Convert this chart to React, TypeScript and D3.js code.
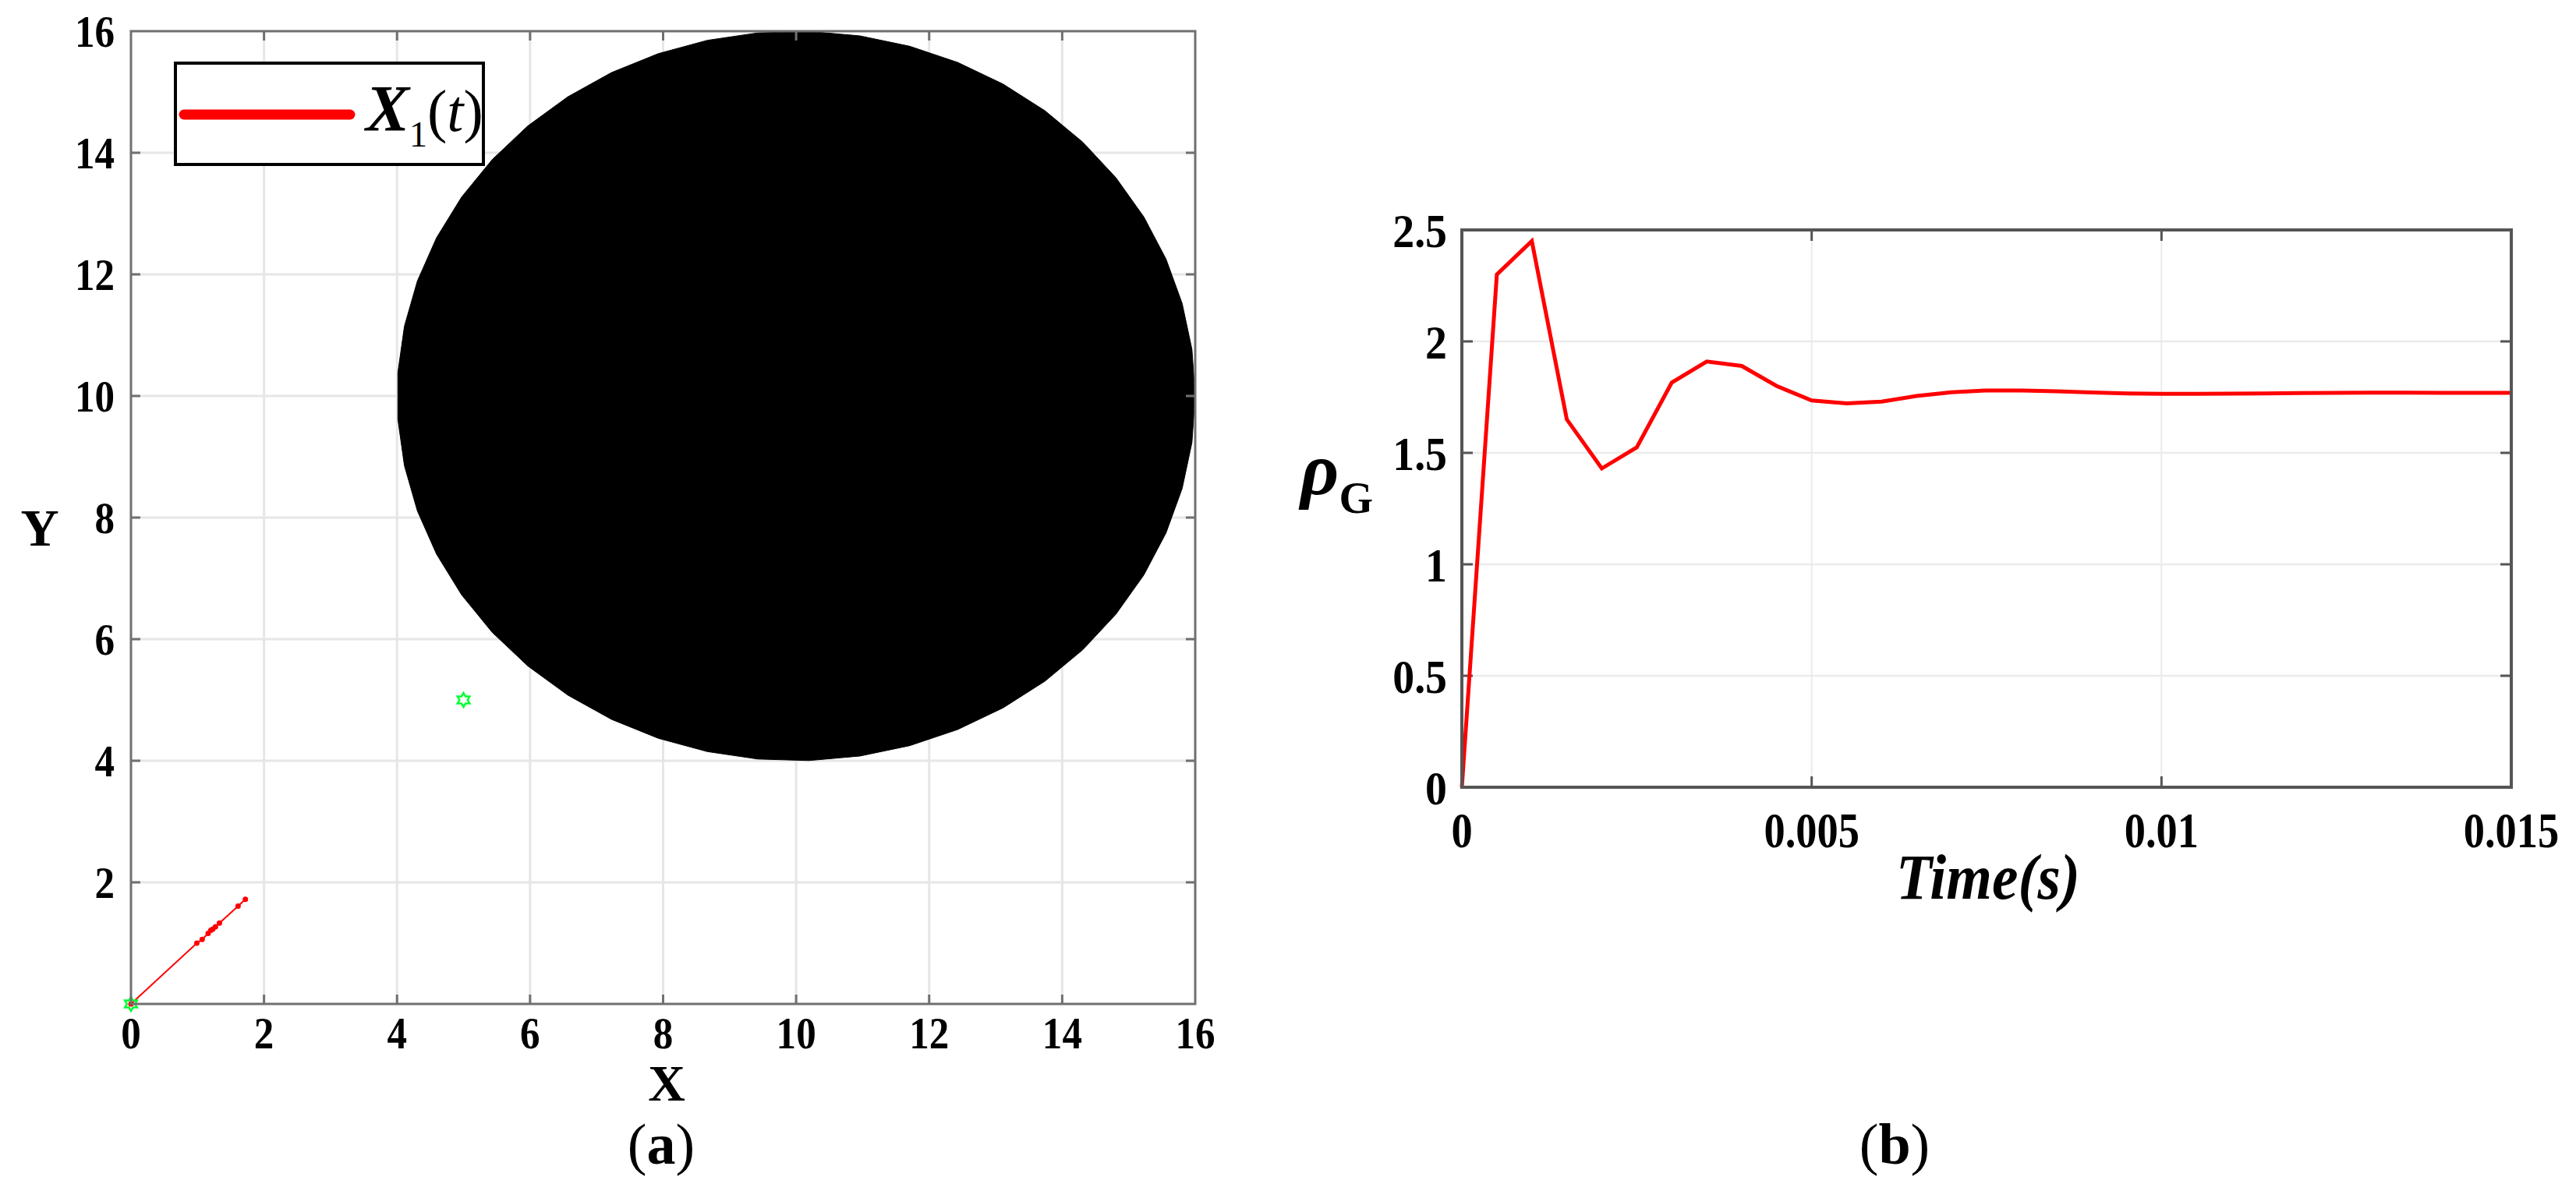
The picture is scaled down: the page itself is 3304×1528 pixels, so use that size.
import React from "react";
import * as d3 from "d3";

// ---------- Data: panel (a) ----------
const trajX = [0, 0.99, 1.07, 1.16, 1.2, 1.23, 1.27, 1.33, 1.61, 1.72];
const trajY = [0, 1.0, 1.06, 1.16, 1.21, 1.23, 1.27, 1.33, 1.61, 1.72];
const startPoint = [0, 0];
const goalPoint = [5, 5];
const obstacleCenter = [10, 10];
const obstacleRadius = 6;
const obstacleVertices = 50;
const xTicksA = [0, 2, 4, 6, 8, 10, 12, 14, 16];
const yTicksA = [2, 4, 6, 8, 10, 12, 14, 16];

// ---------- Data: panel (b) ----------
const timeValues = [
  0, 0.0005, 0.001, 0.0015, 0.002, 0.0025, 0.003, 0.0035, 0.004, 0.0045, 0.005,
  0.0055, 0.006, 0.0065, 0.007, 0.0075, 0.008, 0.0085, 0.009, 0.0095, 0.01,
  0.0105, 0.011, 0.0115, 0.012, 0.0125, 0.013, 0.0135, 0.014, 0.0145, 0.015,
];
const rhoValues = [
  0, 2.3, 2.45, 1.65, 1.43, 1.525, 1.815, 1.91, 1.89, 1.8, 1.735,
  1.722, 1.73, 1.755, 1.772, 1.78, 1.78, 1.776, 1.771, 1.767, 1.765,
  1.765, 1.766, 1.767, 1.768, 1.769, 1.77, 1.77, 1.769, 1.769, 1.769,
];
const timeTicks = [0, 0.005, 0.01, 0.015];
const timeTickLabels = ["0", "0.005", "0.01", "0.015"];
const rhoTicks = [0, 0.5, 1, 1.5, 2, 2.5];
const rhoTickLabels = ["0", "0.5", "1", "1.5", "2", "2.5"];

const FONT = "'Liberation Serif', 'Times New Roman', serif";

function hexagram(cx: number, cy: number, R: number) {
  const r = R / Math.sqrt(3);
  const pts: [number, number][] = d3.range(12).map((k) => {
    const a = (-90 + 30 * k) * (Math.PI / 180);
    const rad = k % 2 === 0 ? R : r;
    return [cx + rad * Math.cos(a), cy + rad * Math.sin(a)];
  });
  return d3.line().curve(d3.curveLinearClosed)(pts) as string;
}

// condensed text helper (reference glyphs are slightly narrow)
function CText(props: {
  x: number;
  y: number;
  anchor?: "start" | "middle" | "end";
  size: number;
  sx?: number;
  weight?: string;
  italic?: boolean;
  children: React.ReactNode;
}) {
  const { x, y, anchor = "start", size, sx = 0.88, weight = "bold", italic = false, children } = props;
  return (
    <text
      transform={`translate(${x},${y}) scale(${sx},1)`}
      textAnchor={anchor}
      fontFamily={FONT}
      fontWeight={weight}
      fontStyle={italic ? "italic" : "normal"}
      fontSize={size}
      fill="#000"
    >
      {children}
    </text>
  );
}

export default function App() {
  // Panel (a) scales
  const xA = d3.scaleLinear().domain([0, 16]).range([168, 1533]);
  const yA = d3.scaleLinear().domain([0, 16]).range([1288, 40]);
  // Panel (b) scales
  const xB = d3.scaleLinear().domain([0, 0.015]).range([1875, 3221]);
  const yB = d3.scaleLinear().domain([0, 2.5]).range([1010, 295]);

  const circlePts: [number, number][] = d3.range(obstacleVertices).map((i) => {
    const a = (i / (obstacleVertices - 1)) * 2 * Math.PI;
    return [
      xA(obstacleCenter[0] + obstacleRadius * Math.cos(a)),
      yA(obstacleCenter[1] + obstacleRadius * Math.sin(a)),
    ];
  });
  const circlePath = d3.line().curve(d3.curveLinearClosed)(circlePts) as string;

  const trajPts: [number, number][] = trajX.map((x, i) => [xA(x), yA(trajY[i])]);
  const trajPath = d3.line()(trajPts) as string;

  const rhoPts: [number, number][] = timeValues.map((t, i) => [xB(t), yB(rhoValues[i])]);
  const rhoPath = d3.line()(rhoPts) as string;

  const [ax0, ax1] = xA.range();
  const [ay0, ay1] = yA.range();
  const [bx0, bx1] = xB.range();
  const [by0, by1] = yB.range();
  const tickA = 12;
  const tickB = 14;

  return (
    <svg
      width={3304}
      height={1528}
      viewBox="0 0 3304 1528"
      style={{ position: "absolute", left: 0, top: 0, background: "#fff" }}
    >
      <rect x={0} y={0} width={3304} height={1528} fill="#fff" />

      {/* ================= Panel (a) ================= */}
      <g>
        {xTicksA.slice(1, -1).map((v) => (
          <line key={"gxa" + v} x1={xA(v)} x2={xA(v)} y1={ay1} y2={ay0} stroke="#e6e6e6" strokeWidth={3} />
        ))}
        {yTicksA.slice(0, -1).map((v) => (
          <line key={"gya" + v} x1={ax0} x2={ax1} y1={yA(v)} y2={yA(v)} stroke="#e6e6e6" strokeWidth={3} />
        ))}

        <path d={circlePath} fill="#000" stroke="#000" strokeWidth={1} />

        <path d={trajPath} fill="none" stroke="#ff0000" strokeWidth={2} />
        {trajPts.map((p, i) => (
          <circle key={"tp" + i} cx={p[0]} cy={p[1]} r={3.5} fill="#ff0000" />
        ))}

        <path d={hexagram(xA(startPoint[0]), yA(startPoint[1]), 9)} fill="none" stroke="#00ff33" strokeWidth={2.5} />
        <path d={hexagram(xA(goalPoint[0]), yA(goalPoint[1]), 9)} fill="none" stroke="#00ff33" strokeWidth={2.5} />

        {xTicksA.slice(1, -1).map((v) => (
          <g key={"txa" + v}>
            <line x1={xA(v)} x2={xA(v)} y1={ay0} y2={ay0 - tickA} stroke="#707070" strokeWidth={3} />
            <line x1={xA(v)} x2={xA(v)} y1={ay1} y2={ay1 + tickA} stroke="#707070" strokeWidth={3} />
          </g>
        ))}
        {yTicksA.slice(0, -1).map((v) => (
          <g key={"tya" + v}>
            <line x1={ax0} x2={ax0 + tickA} y1={yA(v)} y2={yA(v)} stroke="#707070" strokeWidth={3} />
            <line x1={ax1} x2={ax1 - tickA} y1={yA(v)} y2={yA(v)} stroke="#707070" strokeWidth={3} />
          </g>
        ))}

        <rect x={ax0} y={ay1} width={ax1 - ax0} height={ay0 - ay1} fill="none" stroke="#707070" strokeWidth={3} />

        {xTicksA.map((v) => (
          <CText key={"lxa" + v} x={xA(v)} y={1345} anchor="middle" size={58}>
            {v}
          </CText>
        ))}
        {yTicksA.map((v) => (
          <CText key={"lya" + v} x={147} y={yA(v) + 20} anchor="end" size={58}>
            {v}
          </CText>
        ))}

        <CText x={855} y={1412} anchor="middle" size={66} sx={1}>
          X
        </CText>
        <CText x={51} y={700} anchor="middle" size={68} sx={1}>
          Y
        </CText>

        {/* legend */}
        <rect x={225} y={81} width={395} height={130} fill="#fff" stroke="#000" strokeWidth={4} />
        <line x1={236} x2={449} y1={147} y2={147} stroke="#ff0000" strokeWidth={13} strokeLinecap="round" />
        <text x={469} y={168} fontFamily={FONT} fontSize={84} fill="#000">
          <tspan fontWeight="bold" fontStyle="italic">X</tspan>
          <tspan fontSize={46} dy={20}>1</tspan>
          <tspan fontSize={76} dy={-20}>(</tspan>
          <tspan fontSize={76} fontStyle="italic">t</tspan>
          <tspan fontSize={76}>)</tspan>
        </text>

        <text x={848} y={1493} textAnchor="middle" fontFamily={FONT} fontSize={74} fill="#000">
          <tspan>(</tspan>
          <tspan fontWeight="bold">a</tspan>
          <tspan>)</tspan>
        </text>
      </g>

      {/* ================= Panel (b) ================= */}
      <g>
        {timeTicks.slice(1, -1).map((v) => (
          <line key={"gxb" + v} x1={xB(v)} x2={xB(v)} y1={by1} y2={by0} stroke="#ebebeb" strokeWidth={2} />
        ))}
        {rhoTicks.slice(1, -1).map((v) => (
          <line key={"gyb" + v} x1={bx0} x2={bx1} y1={yB(v)} y2={yB(v)} stroke="#ebebeb" strokeWidth={2.5} />
        ))}

        {timeTicks.slice(1, -1).map((v) => (
          <g key={"txb" + v}>
            <line x1={xB(v)} x2={xB(v)} y1={by0} y2={by0 - tickB} stroke="#555" strokeWidth={3} />
            <line x1={xB(v)} x2={xB(v)} y1={by1} y2={by1 + tickB} stroke="#555" strokeWidth={3} />
          </g>
        ))}
        {rhoTicks.slice(1, -1).map((v) => (
          <g key={"tyb" + v}>
            <line x1={bx0} x2={bx0 + tickB} y1={yB(v)} y2={yB(v)} stroke="#555" strokeWidth={3} />
            <line x1={bx1} x2={bx1 - tickB} y1={yB(v)} y2={yB(v)} stroke="#555" strokeWidth={3} />
          </g>
        ))}

        <path d={rhoPath} fill="none" stroke="#ff0000" strokeWidth={5} strokeLinejoin="miter" />

        <rect x={bx0} y={by1} width={bx1 - bx0} height={by0 - by1} fill="none" stroke="#555" strokeWidth={4} />

        {timeTicks.map((v, i) => (
          <CText key={"lxb" + v} x={xB(v)} y={1087} anchor="middle" size={64} sx={0.85}>
            {timeTickLabels[i]}
          </CText>
        ))}
        {rhoTicks.map((v, i) => (
          <CText key={"lyb" + v} x={1856} y={yB(v) + 22} anchor="end" size={62} sx={0.9}>
            {rhoTickLabels[i]}
          </CText>
        ))}

        <CText x={2550} y={1153} anchor="middle" size={82} sx={0.92} italic>
          Time(s)
        </CText>
        <text x={1668} y={634} fontFamily={FONT} fontWeight="bold" fontStyle="italic" fontSize={96} fill="#000">
          ρ
          <tspan fontSize={56} fontStyle="normal" dy={24}>G</tspan>
        </text>

        <text x={2430} y={1493} textAnchor="middle" fontFamily={FONT} fontSize={74} fill="#000">
          <tspan>(</tspan>
          <tspan fontWeight="bold">b</tspan>
          <tspan>)</tspan>
        </text>
      </g>
    </svg>
  );
}
